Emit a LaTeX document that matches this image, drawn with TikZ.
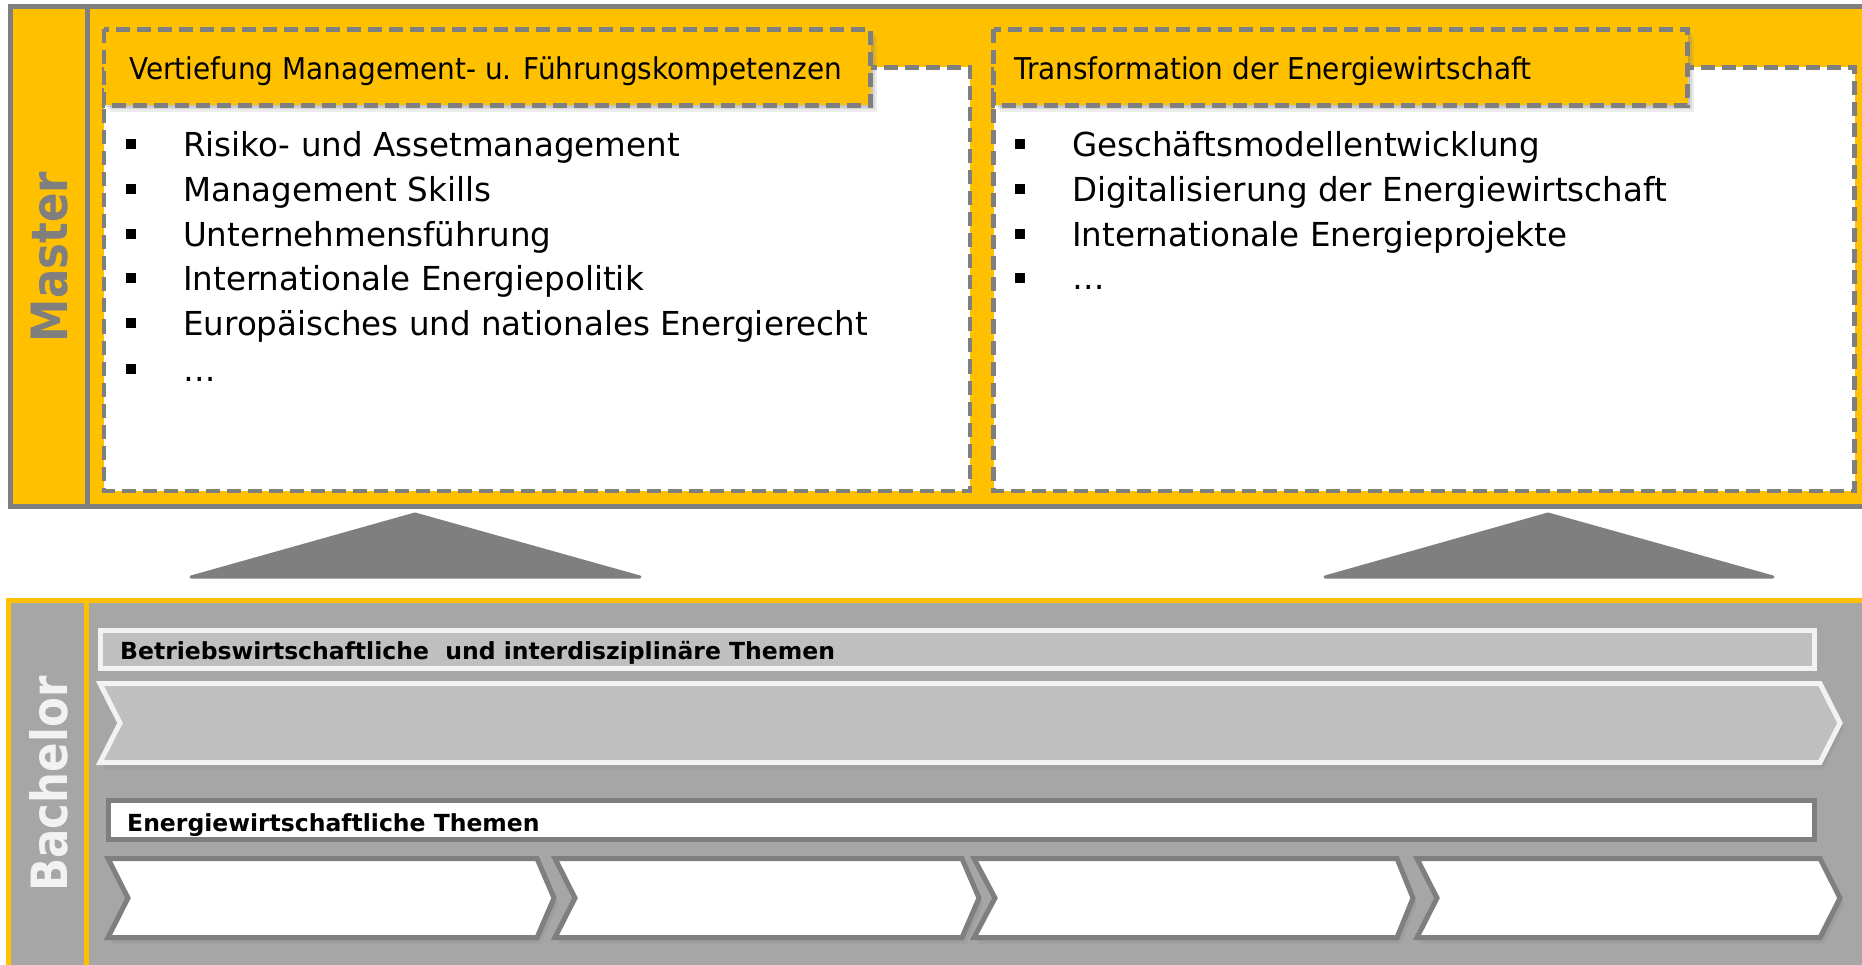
\documentclass[tikz,border=0pt]{standalone}
\usepackage{fontspec}
\setmainfont[FakeStretch=0.87]{DejaVu Sans}
\newfontfamily\headfont[FakeStretch=0.93]{DejaVu Sans}
\newfontfamily\listfont[FakeStretch=0.985]{DejaVu Sans}
\newfontfamily\boldfont[FakeStretch=1.0]{DejaVu Sans Bold}
\usetikzlibrary{shadows}
\definecolor{cyellow}{HTML}{FFC000}
\definecolor{cgray}{HTML}{7F7F7F}
\definecolor{cbg}{HTML}{A6A6A6}
\definecolor{clight}{HTML}{BFBFBF}
\definecolor{cwhite}{HTML}{F2F2F2}
\begin{document}
\begin{tikzpicture}[x=1pt,y=-1pt,
  frameline/.style={line width=5pt},
  dbox/.style={draw=cgray, line width=4.5pt, dash pattern=on 14pt off 7pt},
  softshadow/.style={drop shadow={opacity=0.2, shadow xshift=2pt, shadow yshift=-2pt},
                     drop shadow={opacity=0.18, shadow xshift=4pt, shadow yshift=-4pt},
                     drop shadow={opacity=0.15, shadow xshift=6pt, shadow yshift=-7pt}},
  hdtext/.style={anchor=base west, inner sep=0pt, font=\headfont\fontsize{30}{36}\selectfont},
  litext/.style={anchor=base west, inner sep=0pt, font=\listfont\fontsize{33}{40}\selectfont},
  bultext/.style={anchor=base west, inner sep=0pt, font=\boldfont\fontsize{23.5}{28}\selectfont},
  bulsq/.style={fill=black, minimum size=10pt, inner sep=0pt},
  sidelabel/.style={rotate=90, inner sep=0pt, font=\bfseries\fontsize{50}{60}\selectfont},
  chevshadow/.style={drop shadow={opacity=0.25, shadow xshift=2pt, shadow yshift=-3pt},
                     drop shadow={opacity=0.2, shadow xshift=4pt, shadow yshift=-6pt}},
  chev/.style={fill=white, draw=cgray, line width=5pt, line join=miter, chevshadow},
  tri/.style={fill=cgray, draw=cgray, line width=3pt, line join=round}
]
\clip (0,0) rectangle (1862,965);
\fill[white] (0,0) rectangle (1862,965);

% ---------------- Master ----------------
\draw[fill=cyellow, draw=cgray, frameline] (10,7) rectangle (1890,506);
\draw[cgray, frameline] (87.5,7) -- (87.5,506);
\node[sidelabel, text=cgray] (master) at (50,257) {Master};

% left box
\draw[dbox, fill=white] (104,67.5) rectangle (970,491);
\draw[dbox, fill=cyellow, softshadow] (104,29.5) rectangle (870.5,105.5);
\node[hdtext] (lhead) at (129,80) {Vertiefung Management- u. Führungskompetenzen};

% right box
\draw[dbox, fill=white] (993.5,67.5) rectangle (1854.5,491);
\draw[dbox, fill=cyellow, softshadow] (993.5,29.5) rectangle (1687.5,105.5);
\node[hdtext] (rhead) at (1014,80) {Transformation der Energiewirtschaft};

% left list
\node[bulsq] (lb1) at (131,144) {};
\node[bulsq] (lb2) at (131,189) {};
\node[bulsq] (lb3) at (131,234) {};
\node[bulsq] (lb4) at (131,278) {};
\node[bulsq] (lb5) at (131,323) {};
\node[bulsq] (lb6) at (131,369) {};
\node[litext] (lt1) at (183,157) {Risiko- und Assetmanagement};
\node[litext] (lt2) at (183,202) {Management Skills};
\node[litext] (lt3) at (183,247) {Unternehmensführung};
\node[litext] (lt4) at (183,291) {Internationale Energiepolitik};
\node[litext] (lt5) at (183,336) {Europäisches und nationales Energierecht};
\node[litext] (lt6) at (183,381) {…};

% right list
\node[bulsq] (rb1) at (1020,144) {};
\node[bulsq] (rb2) at (1020,189) {};
\node[bulsq] (rb3) at (1020,234) {};
\node[bulsq] (rb4) at (1020,278) {};
\node[litext] (rt1) at (1072,157) {Geschäftsmodellentwicklung};
\node[litext] (rt2) at (1072,202) {Digitalisierung der Energiewirtschaft};
\node[litext] (rt3) at (1072,247) {Internationale Energieprojekte};
\node[litext] (rt4) at (1072,290) {…};

% ---------------- arrows (triangles) ----------------
\draw[tri] (415,514) -- (640,577) -- (191,577) -- cycle;
\draw[tri] (1548,514) -- (1773,577) -- (1325,577) -- cycle;

% ---------------- Bachelor ----------------
\draw[fill=cbg, draw=cyellow, frameline] (8.5,600.5) rectangle (1890,1000);
\draw[cyellow, frameline] (86,600.5) -- (86,1000);
\node[sidelabel, text=cwhite] (bachelor) at (49,784) {Bachelor};

\draw[fill=clight, draw=cwhite, frameline] (100.5,630.5) rectangle (1814.5,668.5);
\node[bultext] (bhead) at (120,659) {Betriebswirtschaftliche\ \ und interdisziplinäre Themen};

\draw[fill=clight, draw=cwhite, frameline, line join=miter, chevshadow]
  (100,683.5) -- (1820,683.5) -- (1840,723) -- (1820,762.5) -- (100,762.5) -- (120,723) -- cycle;

\draw[fill=white, draw=cgray, frameline] (108.5,800.5) rectangle (1814.5,839.5);
\node[bultext] (ehead) at (127,831) {Energiewirtschaftliche Themen};

\draw[chev] (108,858.5) -- (537,858.5) -- (554,898) -- (537,937.5) -- (108,937.5) -- (128,898) -- cycle;
\draw[chev] (555,858.5) -- (962,858.5) -- (979,898) -- (962,937.5) -- (555,937.5) -- (575,898) -- cycle;
\draw[chev] (974,858.5) -- (1397,858.5) -- (1413,898) -- (1397,937.5) -- (974,937.5) -- (995,898) -- cycle;
\draw[chev] (1417,858.5) -- (1820,858.5) -- (1840,898) -- (1820,937.5) -- (1417,937.5) -- (1437,898) -- cycle;
\end{tikzpicture}
\end{document}
